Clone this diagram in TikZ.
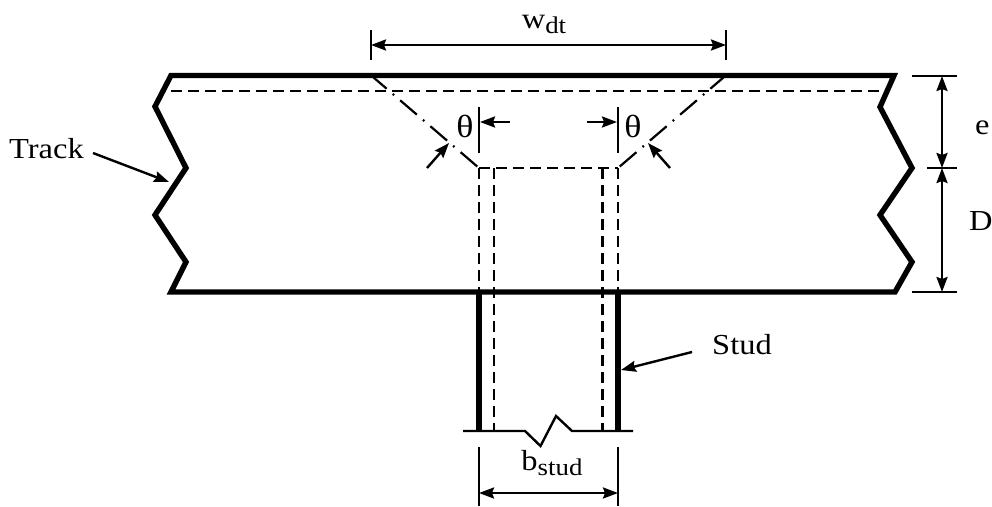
\documentclass[tikz,border=0pt]{standalone}
\usepackage{fontspec}
\setmainfont[FakeStretch=1.12]{Liberation Serif}
\usetikzlibrary{arrows.meta}
\newcommand{\lowsub}[1]{\raisebox{-5.5pt}{\fontsize{24}{24}\selectfont #1}}
\tikzset{
  heavy/.style={line width=5.4pt,line join=miter,line cap=butt},
  studline/.style={line width=6.4pt},
  hidden/.style={line width=2.2pt,dash pattern=on 11pt off 6pt},
  center line/.style={line width=2.2pt,dash pattern=on 22pt off 8pt on 1.8pt off 8pt,dash phase=4pt},
  thin line/.style={line width=2.4pt},
  dim/.style={line width=2.4pt,{Stealth[length=15pt,width=11pt,inset=2pt]}-{Stealth[length=15pt,width=11pt,inset=2pt]}},
  lead/.style={line width=2.4pt,-{Stealth[length=15pt,width=11pt,inset=2pt]}},
  label/.style={inner sep=0pt,font=\fontsize{29}{29}\selectfont},
  theta label/.style={inner sep=0pt,font=\fontsize{32}{32}\selectfont}
}
\begin{document}
\begin{tikzpicture}[x=1pt,y=-1pt]
\useasboundingbox (0,0) rectangle (992,506);
% key points
\coordinate (TL) at (171,75.5); \coordinate (TR) at (894,75.5);
\coordinate (BL) at (171,292); \coordinate (BR) at (895,292);
\coordinate (CL) at (479,168); \coordinate (CR) at (618,168);
\coordinate (TCL) at (373,77); \coordinate (TCR) at (724,77);
% hidden lines
\draw[hidden] (171,91) -- (888,91);
\draw[hidden] (CL) -- (CR);
\draw[hidden] (CL) -- (479,292);
\draw[hidden] (CR) -- (618,292);
\draw[hidden] (494,168) -- (494,431);
\draw[hidden] (602.5,168) -- (602.5,431);
% slope lines
\draw[center line] (TCL) -- (CL);
\draw[center line] (TCR) -- (CR);
% track outline
\draw[heavy] (BL) -- (186,262) -- (155,215) -- (186,168) -- (155,106.5) -- (TL) -- (TR)
  -- (880,107) -- (912,168) -- (880,215) -- (912,262) -- (BR) -- cycle;
% stud
\draw[studline] (479,292) -- (479,431);
\draw[studline] (618,292) -- (618,431);
\draw[thin line] (463,431) -- (525,431) -- (540.5,446) -- (556,416) -- (572,431) -- (633,431);
% wdt
\coordinate (wL) at (371,45); \coordinate (wR) at (726,45);
\draw[thin line] (371,30) -- (371,60);
\draw[thin line] (726,30) -- (726,60);
\draw[dim] (wL) -- (wR);
\node[label,anchor=base] (wdt) at (544,28) {w\lowsub{dt}};
% theta
\draw[thin line] (479,107) -- (479,153);
\draw[thin line] (618,107) -- (618,153);
\coordinate (a1s) at (510,122); \coordinate (a1e) at (480,122);
\coordinate (a2s) at (587,122); \coordinate (a2e) at (617,122);
\draw[lead] (a1s) -- (a1e);
\draw[lead] (a2s) -- (a2e);
\coordinate (a3s) at (427,168); \coordinate (a3e) at (449,143);
\coordinate (a4s) at (670,168); \coordinate (a4e) at (648,143);
\draw[lead] (a3s) -- (a3e);
\draw[lead] (a4s) -- (a4e);
\node[theta label,anchor=base] (th1) at (465,137) {θ};
\node[theta label,anchor=base] (th2) at (633,137) {θ};
% e and D
\draw[thin line] (912,76) -- (957,76);
\draw[thin line] (927,168) -- (957,168);
\draw[thin line] (912,292) -- (957,292);
\coordinate (d1) at (942,76); \coordinate (d2) at (942,168); \coordinate (d3) at (942,292);
\draw[dim] (d1) -- (d2);
\draw[dim] (d2) -- (d3);
\node[label,anchor=base west] (e) at (975,134) {e};
\node[label,anchor=base west] (D) at (969,230) {D};
% Track
\node[label,anchor=base west] (track) at (9,158) {Track};
\coordinate (trk) at (169,182);
\draw[lead] (93,153) -- (trk);
% Stud
\node[label,anchor=base west] (stud) at (712,354) {Stud};
\coordinate (std) at (621,370);
\draw[lead] (692,352) -- (std);
% bstud
\draw[thin line] (479,447) -- (479,506);
\draw[thin line] (618,447) -- (618,506);
\coordinate (bL) at (479,493); \coordinate (bR) at (618,493);
\draw[dim] (bL) -- (bR);
\node[label,anchor=base] (bstud) at (552,470) {b\lowsub{stud}};
\end{tikzpicture}
\end{document}
